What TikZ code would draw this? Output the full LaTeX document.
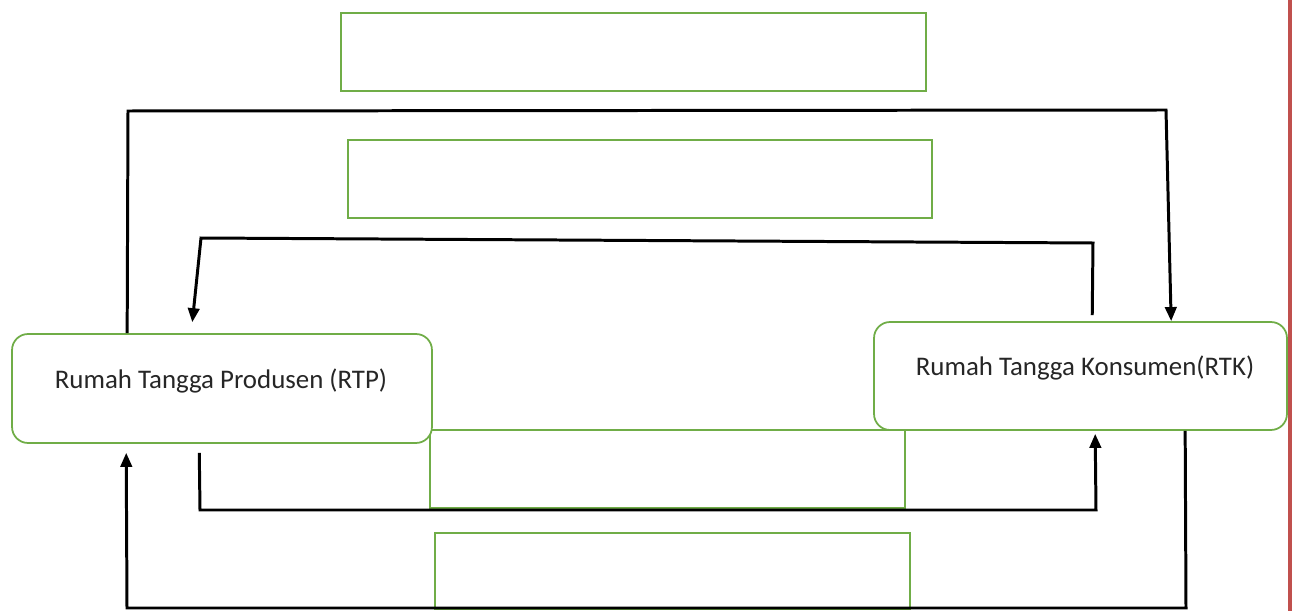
\documentclass[tikz,border=0pt]{standalone}
\usepackage{fontspec}
\setmainfont{Carlito}
\usetikzlibrary{arrows.meta,calc}
\definecolor{boxgreen}{HTML}{70AD47}
\definecolor{edgered}{HTML}{C0504D}
\tikzset{
  greenbox/.style={draw=boxgreen, line width=1pt, fill=white, inner sep=0pt},
  roundbox/.style={greenbox, rounded corners=0.32cm},
  lbl/.style={font=\fontsize{15.3}{18}\selectfont, text=black!85, inner sep=0pt},
  conn/.style={draw=black, line width=1.7pt, -{Triangle[length=8pt,width=6.5pt]}}
}
\begin{document}
\begin{tikzpicture}[x=0.02cm, y=-0.02cm]
\useasboundingbox (0,0) rectangle (1292,611);
\fill[white] (0,0) rectangle (1292,611);
% empty green boxes
\node[greenbox, minimum width=11.7cm, minimum height=1.56cm] (b1) at (633.5,52) {};
\node[greenbox, minimum width=11.68cm, minimum height=1.56cm] (b2) at (640,179) {};
\node[greenbox, minimum width=9.5cm, minimum height=1.56cm] (b3) at (667.5,469) {};
\node[greenbox, minimum width=9.5cm, minimum height=1.52cm] (b4) at (672.5,571) {};
% main boxes
\node[roundbox, minimum width=8.4cm, minimum height=2.18cm] (rtp) at (222,388.5) {};
\node[roundbox, minimum width=8.26cm, minimum height=2.16cm] (rtk) at (1080.5,376) {};
\node[lbl] (rtpt) at (221,381) {Rumah Tangga Produsen (RTP)};
\node[lbl] (rtkt) at (1085,368) {Rumah Tangga Konsumen(RTK)};
% outer top connector: RTP -> RTK
\draw[conn] ($(rtp.north west)+(116,0)$) -- (128,111) -- (1166,110) -- ($(rtk.north west)+(298,0)$);
% inner top connector: RTK -> RTP
\draw[conn, shorten <=6*0.567pt, shorten >=11*0.567pt] ($(rtk.north west)+(219,0)$) -- (1093,243) -- (201,238) -- ($(rtp.north west)+(180,0)$);
% inner bottom connector: RTP -> RTK
\draw[conn, shorten <=9*0.567pt, shorten >=3*0.567pt] ($(rtp.south west)+(188,0)$) -- (200,510) -- (1096,510) -- ($(rtk.south west)+(222,0)$);
% outer bottom connector: RTK -> RTP
\draw[conn, shorten >=9*0.567pt] ($(rtk.south west)+(312,0)$) -- (1186,608) -- (127,608) -- ($(rtp.south west)+(115,0)$);
% red page edge
\draw[edgered, line width=4*0.567pt] (1290,0) -- (1290,611);
\end{tikzpicture}
\end{document}
